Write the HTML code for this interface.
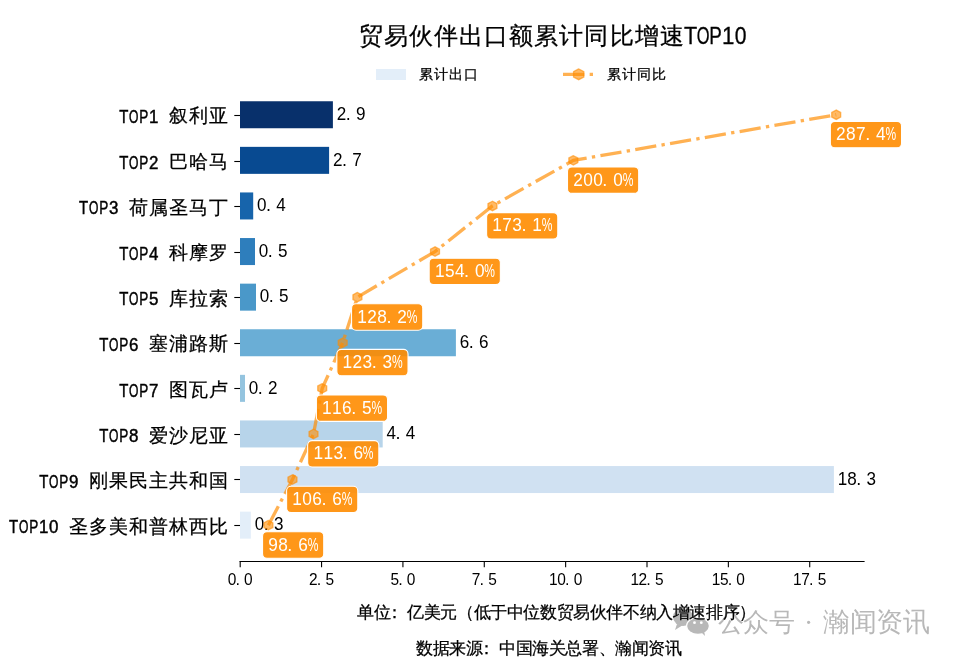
<!DOCTYPE html><html><head><meta charset="utf-8"><style>html,body{margin:0;padding:0;background:#fff;overflow:hidden;width:960px;height:660px;}svg{display:block;will-change:transform;font-family:"Liberation Sans", sans-serif;}</style></head><body>
<svg width="960" height="660" viewBox="0 0 960 660">
<rect width="960" height="660" fill="#fff"/>
<text transform="scale(0.920 1)" x="750.60" y="43.60" font-size="23.50" fill="#000" text-anchor="middle" stroke="#000" stroke-width="0.3">T</text><text transform="scale(0.700 1)" x="1004.43" y="43.60" font-size="23.50" fill="#000" text-anchor="middle" stroke="#000" stroke-width="0.3">O</text><text transform="scale(0.800 1)" x="894.56" y="43.60" font-size="23.50" fill="#000" text-anchor="middle" stroke="#000" stroke-width="0.3">P</text><text transform="scale(0.950 1)" x="766.53" y="43.60" font-size="23.50" fill="#000" text-anchor="middle" stroke="#000" stroke-width="0.3">1</text><text transform="scale(0.900 1)" x="823.06" y="43.60" font-size="23.50" fill="#000" text-anchor="middle" stroke="#000" stroke-width="0.3">0</text><text x="370.53 395.63 420.73 445.83 470.93 496.03 521.13 546.23 571.33 596.43 621.53 646.63 671.73" y="43.60" font-size="24.00" fill="#000" text-anchor="middle" stroke="#000" stroke-width="0.25">贸易伙伴出口额累计同比增速</text>
<rect x="376" y="69" width="30" height="11" fill="#e3eef9"/>
<text x="426.10 440.90 455.70 470.50" y="79.10" font-size="14.30" fill="#000" text-anchor="middle" stroke="#000" stroke-width="0.25">累计出口</text>
<line x1="563" y1="74.4" x2="594" y2="74.4" stroke="#ff8c00" stroke-opacity="0.68" stroke-width="3.3" stroke-dasharray="21.33 5.33 3.33 5.33" />
<polygon points="578.70,68.90 573.56,71.60 573.56,77.00 578.70,79.70 583.84,77.00 583.84,71.60" fill="#ff8c00" fill-opacity="0.6" stroke="#ff8c00" stroke-opacity="0.6" stroke-width="1.3"/>
<text x="614.20 629.00 643.80 658.60" y="79.10" font-size="14.30" fill="#000" text-anchor="middle" stroke="#000" stroke-width="0.25">累计同比</text>
<rect x="240" y="101.25" width="92.90" height="27.0" fill="#08306b"/>
<line x1="234.3" y1="115.50" x2="240" y2="115.50" stroke="#000" stroke-width="1.1"/>
<text transform="scale(0.840 1)" x="147.26" y="122.95" font-size="17.80" fill="#000" text-anchor="middle" stroke="#000" stroke-width="0.45">T</text><text transform="scale(0.680 1)" x="196.62" y="122.95" font-size="17.80" fill="#000" text-anchor="middle" stroke="#000" stroke-width="0.45">O</text><text transform="scale(0.760 1)" x="189.08" y="122.95" font-size="17.80" fill="#000" text-anchor="middle" stroke="#000" stroke-width="0.45">P</text><text transform="scale(0.950 1)" x="161.79" y="122.95" font-size="17.80" fill="#000" text-anchor="middle" stroke="#000" stroke-width="0.45">1</text><text x="178.00 198.00 218.00" y="122.35" font-size="19.30" fill="#000" text-anchor="middle" stroke="#000" stroke-width="0.25">叙利亚</text>
<text transform="scale(0.950 1)" x="359.47 379.68" y="119.95" font-size="18.00" fill="#000" text-anchor="middle">29</text><text x="348.22" y="119.95" font-size="18.00" fill="#000" text-anchor="middle">.</text>
<rect x="240" y="146.85" width="89.10" height="27.0" fill="#084a91"/>
<line x1="234.3" y1="161.50" x2="240" y2="161.50" stroke="#000" stroke-width="1.1"/>
<text transform="scale(0.840 1)" x="147.26" y="168.55" font-size="17.80" fill="#000" text-anchor="middle" stroke="#000" stroke-width="0.45">T</text><text transform="scale(0.680 1)" x="196.62" y="168.55" font-size="17.80" fill="#000" text-anchor="middle" stroke="#000" stroke-width="0.45">O</text><text transform="scale(0.760 1)" x="189.08" y="168.55" font-size="17.80" fill="#000" text-anchor="middle" stroke="#000" stroke-width="0.45">P</text><text transform="scale(0.950 1)" x="161.79" y="168.55" font-size="17.80" fill="#000" text-anchor="middle" stroke="#000" stroke-width="0.45">2</text><text x="178.00 198.00 218.00" y="167.95" font-size="19.30" fill="#000" text-anchor="middle" stroke="#000" stroke-width="0.25">巴哈马</text>
<text transform="scale(0.950 1)" x="355.47 375.68" y="165.55" font-size="18.00" fill="#000" text-anchor="middle">27</text><text x="344.42" y="165.55" font-size="18.00" fill="#000" text-anchor="middle">.</text>
<rect x="240" y="192.45" width="13.20" height="27.0" fill="#1764ab"/>
<line x1="234.3" y1="206.50" x2="240" y2="206.50" stroke="#000" stroke-width="1.1"/>
<text transform="scale(0.840 1)" x="99.64" y="214.15" font-size="17.80" fill="#000" text-anchor="middle" stroke="#000" stroke-width="0.45">T</text><text transform="scale(0.680 1)" x="137.79" y="214.15" font-size="17.80" fill="#000" text-anchor="middle" stroke="#000" stroke-width="0.45">O</text><text transform="scale(0.760 1)" x="136.45" y="214.15" font-size="17.80" fill="#000" text-anchor="middle" stroke="#000" stroke-width="0.45">P</text><text transform="scale(0.950 1)" x="119.68" y="214.15" font-size="17.80" fill="#000" text-anchor="middle" stroke="#000" stroke-width="0.45">3</text><text x="138.00 158.00 178.00 198.00 218.00" y="213.55" font-size="19.30" fill="#000" text-anchor="middle" stroke="#000" stroke-width="0.25">荷属圣马丁</text>
<text transform="scale(0.950 1)" x="275.58 295.79" y="211.15" font-size="18.00" fill="#000" text-anchor="middle">04</text><text x="268.52" y="211.15" font-size="18.00" fill="#000" text-anchor="middle">.</text>
<rect x="240" y="238.05" width="15.00" height="27.0" fill="#2e7ebc"/>
<line x1="234.3" y1="252.50" x2="240" y2="252.50" stroke="#000" stroke-width="1.1"/>
<text transform="scale(0.840 1)" x="147.26" y="259.75" font-size="17.80" fill="#000" text-anchor="middle" stroke="#000" stroke-width="0.45">T</text><text transform="scale(0.680 1)" x="196.62" y="259.75" font-size="17.80" fill="#000" text-anchor="middle" stroke="#000" stroke-width="0.45">O</text><text transform="scale(0.760 1)" x="189.08" y="259.75" font-size="17.80" fill="#000" text-anchor="middle" stroke="#000" stroke-width="0.45">P</text><text transform="scale(0.950 1)" x="161.79" y="259.75" font-size="17.80" fill="#000" text-anchor="middle" stroke="#000" stroke-width="0.45">4</text><text x="178.00 198.00 218.00" y="259.15" font-size="19.30" fill="#000" text-anchor="middle" stroke="#000" stroke-width="0.25">科摩罗</text>
<text transform="scale(0.950 1)" x="277.47 297.68" y="256.75" font-size="18.00" fill="#000" text-anchor="middle">05</text><text x="270.32" y="256.75" font-size="18.00" fill="#000" text-anchor="middle">.</text>
<rect x="240" y="283.65" width="16.00" height="27.0" fill="#4a98c9"/>
<line x1="234.3" y1="297.50" x2="240" y2="297.50" stroke="#000" stroke-width="1.1"/>
<text transform="scale(0.840 1)" x="147.26" y="305.35" font-size="17.80" fill="#000" text-anchor="middle" stroke="#000" stroke-width="0.45">T</text><text transform="scale(0.680 1)" x="196.62" y="305.35" font-size="17.80" fill="#000" text-anchor="middle" stroke="#000" stroke-width="0.45">O</text><text transform="scale(0.760 1)" x="189.08" y="305.35" font-size="17.80" fill="#000" text-anchor="middle" stroke="#000" stroke-width="0.45">P</text><text transform="scale(0.950 1)" x="161.79" y="305.35" font-size="17.80" fill="#000" text-anchor="middle" stroke="#000" stroke-width="0.45">5</text><text x="178.00 198.00 218.00" y="304.75" font-size="19.30" fill="#000" text-anchor="middle" stroke="#000" stroke-width="0.25">库拉索</text>
<text transform="scale(0.950 1)" x="278.53 298.74" y="302.35" font-size="18.00" fill="#000" text-anchor="middle">05</text><text x="271.32" y="302.35" font-size="18.00" fill="#000" text-anchor="middle">.</text>
<rect x="240" y="329.25" width="215.90" height="27.0" fill="#6aaed6"/>
<line x1="234.3" y1="343.50" x2="240" y2="343.50" stroke="#000" stroke-width="1.1"/>
<text transform="scale(0.840 1)" x="123.45" y="350.95" font-size="17.80" fill="#000" text-anchor="middle" stroke="#000" stroke-width="0.45">T</text><text transform="scale(0.680 1)" x="167.21" y="350.95" font-size="17.80" fill="#000" text-anchor="middle" stroke="#000" stroke-width="0.45">O</text><text transform="scale(0.760 1)" x="162.76" y="350.95" font-size="17.80" fill="#000" text-anchor="middle" stroke="#000" stroke-width="0.45">P</text><text transform="scale(0.950 1)" x="140.74" y="350.95" font-size="17.80" fill="#000" text-anchor="middle" stroke="#000" stroke-width="0.45">6</text><text x="158.00 178.00 198.00 218.00" y="350.35" font-size="19.30" fill="#000" text-anchor="middle" stroke="#000" stroke-width="0.25">塞浦路斯</text>
<text transform="scale(0.950 1)" x="488.95 509.16" y="347.95" font-size="18.00" fill="#000" text-anchor="middle">66</text><text x="471.22" y="347.95" font-size="18.00" fill="#000" text-anchor="middle">.</text>
<rect x="240" y="374.85" width="5.00" height="27.0" fill="#94c4df"/>
<line x1="234.3" y1="388.50" x2="240" y2="388.50" stroke="#000" stroke-width="1.1"/>
<text transform="scale(0.840 1)" x="147.26" y="396.55" font-size="17.80" fill="#000" text-anchor="middle" stroke="#000" stroke-width="0.45">T</text><text transform="scale(0.680 1)" x="196.62" y="396.55" font-size="17.80" fill="#000" text-anchor="middle" stroke="#000" stroke-width="0.45">O</text><text transform="scale(0.760 1)" x="189.08" y="396.55" font-size="17.80" fill="#000" text-anchor="middle" stroke="#000" stroke-width="0.45">P</text><text transform="scale(0.950 1)" x="161.79" y="396.55" font-size="17.80" fill="#000" text-anchor="middle" stroke="#000" stroke-width="0.45">7</text><text x="178.00 198.00 218.00" y="395.95" font-size="19.30" fill="#000" text-anchor="middle" stroke="#000" stroke-width="0.25">图瓦卢</text>
<text transform="scale(0.950 1)" x="266.95 287.16" y="393.55" font-size="18.00" fill="#000" text-anchor="middle">02</text><text x="260.32" y="393.55" font-size="18.00" fill="#000" text-anchor="middle">.</text>
<rect x="240" y="420.45" width="142.70" height="27.0" fill="#b7d4ea"/>
<line x1="234.3" y1="434.50" x2="240" y2="434.50" stroke="#000" stroke-width="1.1"/>
<text transform="scale(0.840 1)" x="123.45" y="442.15" font-size="17.80" fill="#000" text-anchor="middle" stroke="#000" stroke-width="0.45">T</text><text transform="scale(0.680 1)" x="167.21" y="442.15" font-size="17.80" fill="#000" text-anchor="middle" stroke="#000" stroke-width="0.45">O</text><text transform="scale(0.760 1)" x="162.76" y="442.15" font-size="17.80" fill="#000" text-anchor="middle" stroke="#000" stroke-width="0.45">P</text><text transform="scale(0.950 1)" x="140.74" y="442.15" font-size="17.80" fill="#000" text-anchor="middle" stroke="#000" stroke-width="0.45">8</text><text x="158.00 178.00 198.00 218.00" y="441.55" font-size="19.30" fill="#000" text-anchor="middle" stroke="#000" stroke-width="0.25">爱沙尼亚</text>
<text transform="scale(0.950 1)" x="411.89 432.11" y="439.15" font-size="18.00" fill="#000" text-anchor="middle">44</text><text x="398.02" y="439.15" font-size="18.00" fill="#000" text-anchor="middle">.</text>
<rect x="240" y="466.05" width="593.90" height="27.0" fill="#d0e1f2"/>
<line x1="234.3" y1="479.50" x2="240" y2="479.50" stroke="#000" stroke-width="1.1"/>
<text transform="scale(0.840 1)" x="52.02" y="487.75" font-size="17.80" fill="#000" text-anchor="middle" stroke="#000" stroke-width="0.45">T</text><text transform="scale(0.680 1)" x="78.97" y="487.75" font-size="17.80" fill="#000" text-anchor="middle" stroke="#000" stroke-width="0.45">O</text><text transform="scale(0.760 1)" x="83.82" y="487.75" font-size="17.80" fill="#000" text-anchor="middle" stroke="#000" stroke-width="0.45">P</text><text transform="scale(0.950 1)" x="77.58" y="487.75" font-size="17.80" fill="#000" text-anchor="middle" stroke="#000" stroke-width="0.45">9</text><text x="98.00 118.00 138.00 158.00 178.00 198.00 218.00" y="487.15" font-size="19.30" fill="#000" text-anchor="middle" stroke="#000" stroke-width="0.25">刚果民主共和国</text>
<text transform="scale(0.950 1)" x="886.84 896.95 917.16" y="484.75" font-size="18.00" fill="#000" text-anchor="middle">183</text><text x="858.82" y="484.75" font-size="18.00" fill="#000" text-anchor="middle">.</text>
<rect x="240" y="511.65" width="10.85" height="27.0" fill="#e3eef9"/>
<line x1="234.3" y1="525.50" x2="240" y2="525.50" stroke="#000" stroke-width="1.1"/>
<text transform="scale(0.840 1)" x="16.31" y="533.35" font-size="17.80" fill="#000" text-anchor="middle" stroke="#000" stroke-width="0.45">T</text><text transform="scale(0.680 1)" x="34.85" y="533.35" font-size="17.80" fill="#000" text-anchor="middle" stroke="#000" stroke-width="0.45">O</text><text transform="scale(0.760 1)" x="44.34" y="533.35" font-size="17.80" fill="#000" text-anchor="middle" stroke="#000" stroke-width="0.45">P</text><text transform="scale(0.950 1)" x="46.00 56.53" y="533.35" font-size="17.80" fill="#000" text-anchor="middle" stroke="#000" stroke-width="0.45">10</text><text x="78.00 98.00 118.00 138.00 158.00 178.00 198.00 218.00" y="532.75" font-size="19.30" fill="#000" text-anchor="middle" stroke="#000" stroke-width="0.25">圣多美和普林西比</text>
<text transform="scale(0.950 1)" x="273.11 293.32" y="530.35" font-size="18.00" fill="#000" text-anchor="middle">03</text><text x="266.17" y="530.35" font-size="18.00" fill="#000" text-anchor="middle">.</text>
<line x1="239.5" y1="561.5" x2="864.6" y2="561.5" stroke="#000" stroke-width="1.1"/>
<line x1="240.20" y1="561.5" x2="240.20" y2="567.3" stroke="#000" stroke-width="1.1"/>
<text transform="scale(0.950 1)" x="244.21 261.47" y="584.80" font-size="16.30" fill="#000" text-anchor="middle">00</text><text x="237.74" y="584.80" font-size="16.30" fill="#000" text-anchor="middle">.</text>
<line x1="321.56" y1="561.5" x2="321.56" y2="567.3" stroke="#000" stroke-width="1.1"/>
<text transform="scale(0.950 1)" x="329.85 347.12" y="584.80" font-size="16.30" fill="#000" text-anchor="middle">25</text><text x="319.10" y="584.80" font-size="16.30" fill="#000" text-anchor="middle">.</text>
<line x1="402.92" y1="561.5" x2="402.92" y2="567.3" stroke="#000" stroke-width="1.1"/>
<text transform="scale(0.950 1)" x="415.49 432.76" y="584.80" font-size="16.30" fill="#000" text-anchor="middle">50</text><text x="400.46" y="584.80" font-size="16.30" fill="#000" text-anchor="middle">.</text>
<line x1="484.28" y1="561.5" x2="484.28" y2="567.3" stroke="#000" stroke-width="1.1"/>
<text transform="scale(0.950 1)" x="501.14 518.40" y="584.80" font-size="16.30" fill="#000" text-anchor="middle">75</text><text x="481.82" y="584.80" font-size="16.30" fill="#000" text-anchor="middle">.</text>
<line x1="565.64" y1="561.5" x2="565.64" y2="567.3" stroke="#000" stroke-width="1.1"/>
<text transform="scale(0.950 1)" x="582.46 591.09 608.36" y="584.80" font-size="16.30" fill="#000" text-anchor="middle">100</text><text x="567.28" y="584.80" font-size="16.30" fill="#000" text-anchor="middle">.</text>
<line x1="647.00" y1="561.5" x2="647.00" y2="567.3" stroke="#000" stroke-width="1.1"/>
<text transform="scale(0.950 1)" x="668.11 676.74 694.00" y="584.80" font-size="16.30" fill="#000" text-anchor="middle">125</text><text x="648.64" y="584.80" font-size="16.30" fill="#000" text-anchor="middle">.</text>
<line x1="728.36" y1="561.5" x2="728.36" y2="567.3" stroke="#000" stroke-width="1.1"/>
<text transform="scale(0.950 1)" x="753.75 762.38 779.64" y="584.80" font-size="16.30" fill="#000" text-anchor="middle">150</text><text x="730.00" y="584.80" font-size="16.30" fill="#000" text-anchor="middle">.</text>
<line x1="809.72" y1="561.5" x2="809.72" y2="567.3" stroke="#000" stroke-width="1.1"/>
<text transform="scale(0.950 1)" x="839.39 848.02 865.28" y="584.80" font-size="16.30" fill="#000" text-anchor="middle">175</text><text x="811.36" y="584.80" font-size="16.30" fill="#000" text-anchor="middle">.</text>
<polyline points="268.39,525.15 292.45,479.55 313.50,433.95 322.23,388.35 342.68,342.75 357.41,297.15 435.01,251.55 492.45,205.95 573.35,160.35 836.21,114.75" fill="none" stroke="#ff8c00" stroke-width="3.3" stroke-dasharray="21.33 5.33 3.33 5.33" stroke-opacity="0.68"/>
<polygon points="836.21,110.05 831.73,112.40 831.73,117.10 836.21,119.45 840.68,117.10 840.68,112.40" fill="#ff8c00" fill-opacity="0.6" stroke="#ff8c00" stroke-opacity="0.6" stroke-width="1.3"/>
<polygon points="573.35,155.65 568.87,158.00 568.87,162.70 573.35,165.05 577.83,162.70 577.83,158.00" fill="#ff8c00" fill-opacity="0.6" stroke="#ff8c00" stroke-opacity="0.6" stroke-width="1.3"/>
<polygon points="492.45,201.25 487.97,203.60 487.97,208.30 492.45,210.65 496.93,208.30 496.93,203.60" fill="#ff8c00" fill-opacity="0.6" stroke="#ff8c00" stroke-opacity="0.6" stroke-width="1.3"/>
<polygon points="435.01,246.85 430.53,249.20 430.53,253.90 435.01,256.25 439.48,253.90 439.48,249.20" fill="#ff8c00" fill-opacity="0.6" stroke="#ff8c00" stroke-opacity="0.6" stroke-width="1.3"/>
<polygon points="357.41,292.45 352.94,294.80 352.94,299.50 357.41,301.85 361.89,299.50 361.89,294.80" fill="#ff8c00" fill-opacity="0.6" stroke="#ff8c00" stroke-opacity="0.6" stroke-width="1.3"/>
<polygon points="342.68,338.05 338.20,340.40 338.20,345.10 342.68,347.45 347.15,345.10 347.15,340.40" fill="#ff8c00" fill-opacity="0.6" stroke="#ff8c00" stroke-opacity="0.6" stroke-width="1.3"/>
<polygon points="322.23,383.65 317.75,386.00 317.75,390.70 322.23,393.05 326.70,390.70 326.70,386.00" fill="#ff8c00" fill-opacity="0.6" stroke="#ff8c00" stroke-opacity="0.6" stroke-width="1.3"/>
<polygon points="313.50,429.25 309.03,431.60 309.03,436.30 313.50,438.65 317.98,436.30 317.98,431.60" fill="#ff8c00" fill-opacity="0.6" stroke="#ff8c00" stroke-opacity="0.6" stroke-width="1.3"/>
<polygon points="292.45,474.85 287.97,477.20 287.97,481.90 292.45,484.25 296.93,481.90 296.93,477.20" fill="#ff8c00" fill-opacity="0.6" stroke="#ff8c00" stroke-opacity="0.6" stroke-width="1.3"/>
<polygon points="268.39,520.45 263.91,522.80 263.91,527.50 268.39,529.85 272.87,527.50 272.87,522.80" fill="#ff8c00" fill-opacity="0.6" stroke="#ff8c00" stroke-opacity="0.6" stroke-width="1.3"/>
<rect x="830.36" y="121.40" width="71.20" height="26.4" rx="4.5" ry="4.5" fill="#ff8c00" fill-opacity="0.9" stroke="#fff" stroke-width="1.1"/>
<text transform="scale(0.950 1)" x="885.17 895.69 906.22 927.27" y="140.15" font-size="18.20" fill="#fff" text-anchor="middle">2874</text><text x="867.71" y="140.15" font-size="18.20" fill="#fff" text-anchor="middle">.</text><text transform="scale(0.660 1)" x="1349.86" y="140.15" font-size="18.20" fill="#fff" text-anchor="middle">%</text>
<rect x="567.50" y="167.00" width="71.20" height="26.4" rx="4.5" ry="4.5" fill="#ff8c00" fill-opacity="0.9" stroke="#fff" stroke-width="1.1"/>
<text transform="scale(0.950 1)" x="608.48 619.00 629.53 650.58" y="185.75" font-size="18.20" fill="#fff" text-anchor="middle">2000</text><text x="604.85" y="185.75" font-size="18.20" fill="#fff" text-anchor="middle">.</text><text transform="scale(0.660 1)" x="951.59" y="185.75" font-size="18.20" fill="#fff" text-anchor="middle">%</text>
<rect x="486.60" y="212.60" width="71.20" height="26.4" rx="4.5" ry="4.5" fill="#ff8c00" fill-opacity="0.9" stroke="#fff" stroke-width="1.1"/>
<text transform="scale(0.950 1)" x="523.32 533.84 544.37 565.42" y="231.35" font-size="18.20" fill="#fff" text-anchor="middle">1731</text><text x="523.95" y="231.35" font-size="18.20" fill="#fff" text-anchor="middle">.</text><text transform="scale(0.660 1)" x="829.01" y="231.35" font-size="18.20" fill="#fff" text-anchor="middle">%</text>
<rect x="429.16" y="258.20" width="71.20" height="26.4" rx="4.5" ry="4.5" fill="#ff8c00" fill-opacity="0.9" stroke="#fff" stroke-width="1.1"/>
<text transform="scale(0.950 1)" x="462.85 473.38 483.90 504.95" y="276.95" font-size="18.20" fill="#fff" text-anchor="middle">1540</text><text x="466.51" y="276.95" font-size="18.20" fill="#fff" text-anchor="middle">.</text><text transform="scale(0.660 1)" x="741.98" y="276.95" font-size="18.20" fill="#fff" text-anchor="middle">%</text>
<rect x="351.56" y="303.80" width="71.20" height="26.4" rx="4.5" ry="4.5" fill="#ff8c00" fill-opacity="0.9" stroke="#fff" stroke-width="1.1"/>
<text transform="scale(0.950 1)" x="381.17 391.70 402.22 423.28" y="322.55" font-size="18.20" fill="#fff" text-anchor="middle">1282</text><text x="388.91" y="322.55" font-size="18.20" fill="#fff" text-anchor="middle">.</text><text transform="scale(0.660 1)" x="624.41" y="322.55" font-size="18.20" fill="#fff" text-anchor="middle">%</text>
<rect x="336.83" y="349.40" width="71.20" height="26.4" rx="4.5" ry="4.5" fill="#ff8c00" fill-opacity="0.9" stroke="#fff" stroke-width="1.1"/>
<text transform="scale(0.950 1)" x="365.66 376.19 386.71 407.76" y="368.15" font-size="18.20" fill="#fff" text-anchor="middle">1233</text><text x="374.18" y="368.15" font-size="18.20" fill="#fff" text-anchor="middle">.</text><text transform="scale(0.660 1)" x="602.08" y="368.15" font-size="18.20" fill="#fff" text-anchor="middle">%</text>
<rect x="316.38" y="395.00" width="71.20" height="26.4" rx="4.5" ry="4.5" fill="#ff8c00" fill-opacity="0.9" stroke="#fff" stroke-width="1.1"/>
<text transform="scale(0.950 1)" x="344.13 354.66 365.18 386.24" y="413.75" font-size="18.20" fill="#fff" text-anchor="middle">1165</text><text x="353.73" y="413.75" font-size="18.20" fill="#fff" text-anchor="middle">.</text><text transform="scale(0.660 1)" x="571.10" y="413.75" font-size="18.20" fill="#fff" text-anchor="middle">%</text>
<rect x="307.65" y="440.60" width="71.20" height="26.4" rx="4.5" ry="4.5" fill="#ff8c00" fill-opacity="0.9" stroke="#fff" stroke-width="1.1"/>
<text transform="scale(0.950 1)" x="334.95 345.48 356.00 377.06" y="459.35" font-size="18.20" fill="#fff" text-anchor="middle">1136</text><text x="345.00" y="459.35" font-size="18.20" fill="#fff" text-anchor="middle">.</text><text transform="scale(0.660 1)" x="557.88" y="459.35" font-size="18.20" fill="#fff" text-anchor="middle">%</text>
<rect x="286.60" y="486.20" width="71.20" height="26.4" rx="4.5" ry="4.5" fill="#ff8c00" fill-opacity="0.9" stroke="#fff" stroke-width="1.1"/>
<text transform="scale(0.950 1)" x="312.79 323.32 333.84 354.90" y="504.95" font-size="18.20" fill="#fff" text-anchor="middle">1066</text><text x="323.95" y="504.95" font-size="18.20" fill="#fff" text-anchor="middle">.</text><text transform="scale(0.660 1)" x="525.99" y="504.95" font-size="18.20" fill="#fff" text-anchor="middle">%</text>
<rect x="262.54" y="531.80" width="61.20" height="26.4" rx="4.5" ry="4.5" fill="#ff8c00" fill-opacity="0.9" stroke="#fff" stroke-width="1.1"/>
<text transform="scale(0.950 1)" x="287.46 297.99 319.04" y="550.55" font-size="18.20" fill="#fff" text-anchor="middle">986</text><text x="289.89" y="550.55" font-size="18.20" fill="#fff" text-anchor="middle">.</text><text transform="scale(0.660 1)" x="474.38" y="550.55" font-size="18.20" fill="#fff" text-anchor="middle">%</text>
<g fill="#b8b8b8">
<ellipse cx="683" cy="617" rx="10" ry="9"/>
<path d="M677,624 L675,630 L683,625 Z"/>
<ellipse cx="698" cy="626" rx="11.4" ry="8.4" stroke="#fff" stroke-width="1.2"/>
<path d="M701,632 L705,636 L704,630 Z"/>
</g>
<circle cx="694.5" cy="622.7" r="1.4" fill="#fff"/><circle cx="701.3" cy="622.7" r="1.4" fill="#fff"/>
<text x="730.75 756.25 781.75" y="630.50" font-size="25.50" fill="#b8b8b8" text-anchor="middle">公众号</text>
<circle cx="808.6" cy="622.3" r="1.6" fill="#b8b8b8"/>
<text x="836.75 863.25 889.75 916.25" y="630.50" font-size="26.50" fill="#b8b8b8" text-anchor="middle">瀚闻资讯</text>
<text x="365.80 382.40 394.35 415.60 432.20 448.80 465.40 482.00 498.60 515.20 531.80 548.40 565.00 581.60 598.20 614.80 631.40 648.00 664.60 681.20 697.80 714.40 731.00 747.60" y="617.50" font-size="16.60" fill="#000" text-anchor="middle" stroke="#000" stroke-width="0.25">单位：亿美元（低于中位数贸易伙伴不纳入增速排序）</text>
<text x="424.40 441.00 457.60 474.20 486.15 507.40 524.00 540.60 557.20 573.80 590.40 607.00 623.60 640.20 656.80 673.40" y="653.50" font-size="16.60" fill="#000" text-anchor="middle" stroke="#000" stroke-width="0.25">数据来源：中国海关总署、瀚闻资讯</text>
</svg></body></html>
